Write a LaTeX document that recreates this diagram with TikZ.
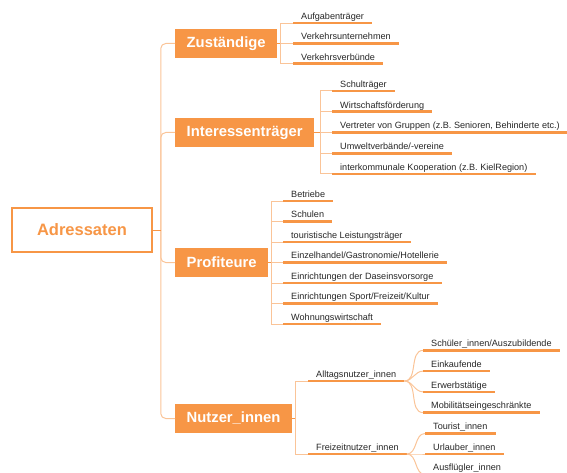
\documentclass[tikz,border=0pt]{standalone}
\usepackage{fontspec}
\setmainfont{Liberation Sans}
\usetikzlibrary{positioning,calc}
\definecolor{MapOrange}{RGB}{247,150,70}
\definecolor{MapLight}{RGB}{250,196,152}

\tikzset{
  rootbox/.style={draw=MapOrange,line width=1.5pt,fill=white,text=MapOrange,
    font=\fontsize{16.5}{18}\selectfont\bfseries,minimum width=140pt,minimum height=44pt},
  mainbox/.style={fill=MapOrange,text=white,font=\fontsize{14.8}{16}\selectfont\bfseries,
    inner xsep=11.5pt,minimum height=29pt,anchor=west},
  leaf/.style={font=\fontsize{9.1}{10}\selectfont,text=black!85,text height=6.8pt,
    text depth=2pt,inner xsep=8pt,inner ysep=1.5pt,anchor=south west},
  uline/.style={MapOrange,line width=2.6pt},
  twig/.style={MapLight,line width=1pt},
  stub/.style={MapOrange,line width=1pt}
}

\begin{document}
\begin{tikzpicture}[x=1pt,y=-1pt]
\useasboundingbox (0,0) rectangle (567,473);

% root and main branches
\node[rootbox] (adr) at (82,230) {Adressaten};
\node[mainbox] (zust) at (175,43.5) {Zuständige};
\node[mainbox] (inter) at (175,132.5) {Interessenträger};
\node[mainbox] (prof) at (175,262.5) {Profiteure};
\node[mainbox] (nutz) at (175,418.5) {Nutzer\_innen};

\coordinate (trunk) at ($(adr.east)+(8,0)$);
\foreach \m in {zust,inter,prof,nutz}
  \draw[twig,rounded corners=5pt] (trunk) |- (\m.west);
\draw[stub] (adr.east) -- (trunk);

% Zustaendige
\foreach \txt [count=\i] in {Aufgabenträger,Verkehrsunternehmen,Verkehrsverbünde} {
  \node[leaf] (zust-\i) at (293,{43.5+(\i-2)*20.3}) {\txt};
  \draw[twig] (zust.east) -- ++(3,0) |- (zust-\i.south west);
  \draw[uline] (zust-\i.south west) -- (zust-\i.south east);
}
\draw[stub] (zust.east) -- ++(3,0);

% Interessentraeger
\foreach \txt [count=\i] in {Schulträger,Wirtschaftsförderung,
    {Vertreter von Gruppen (z.B. Senioren, Behinderte etc.)},
    Umweltverbände/-vereine,interkommunale Kooperation (z.B. KielRegion)} {
  \node[leaf] (inter-\i) at (332,{132.5+(\i-3)*20.75}) {\txt};
  \draw[twig] (inter.east) -- ++(6,0) |- (inter-\i.south west);
  \draw[uline] (inter-\i.south west) -- (inter-\i.south east);
}
\draw[stub] (inter.east) -- ++(6,0);

% Profiteure
\foreach \txt [count=\i] in {Betriebe,Schulen,touristische Leistungsträger,
    Einzelhandel/Gastronomie/Hotellerie,Einrichtungen der Daseinsvorsorge,
    Einrichtungen Sport/Freizeit/Kultur,Wohnungswirtschaft} {
  \node[leaf] (prof-\i) at (283,{262.5+(\i-4)*20.5}) {\txt};
  \draw[twig] (prof.east) -- ++(3,0) |- (prof-\i.south west);
  \draw[uline] (prof-\i.south west) -- (prof-\i.south east);
}
\draw[stub] (prof.east) -- ++(3,0);

% Nutzer_innen
\node[leaf] (allt) at (308,381) {Alltagsnutzer\_innen};
\node[leaf] (frei) at (308,454) {Freizeitnutzer\_innen};
\foreach \s in {allt,frei} {
  \draw[twig] (nutz.east) -- ++(3,0) |- (\s.south west);
  \draw[uline] (\s.south west) -- (\s.south east);
}
\draw[stub] (nutz.east) -- ++(3,0);

\foreach \txt [count=\i] in {Schüler\_innen/Auszubildende,Einkaufende,
    Erwerbstätige,Mobilitätseingeschränkte} {
  \node[leaf] (allt-\i) at (423,{381.5+(\i-2.5)*20.7}) {\txt};
  \draw[twig] (allt.south east) to[out=0,in=180] (allt-\i.south west);
  \draw[uline] (allt-\i.south west) -- (allt-\i.south east);
}

\foreach \txt [count=\i] in {Tourist\_innen,Urlauber\_innen,Ausflügler\_innen} {
  \node[leaf] (frei-\i) at (425,{454+(\i-2)*20.5}) {\txt};
  \draw[twig] (frei.south east) to[out=0,in=180] (frei-\i.south west);
  \draw[uline] (frei-\i.south west) -- (frei-\i.south east);
}
\end{tikzpicture}
\end{document}
